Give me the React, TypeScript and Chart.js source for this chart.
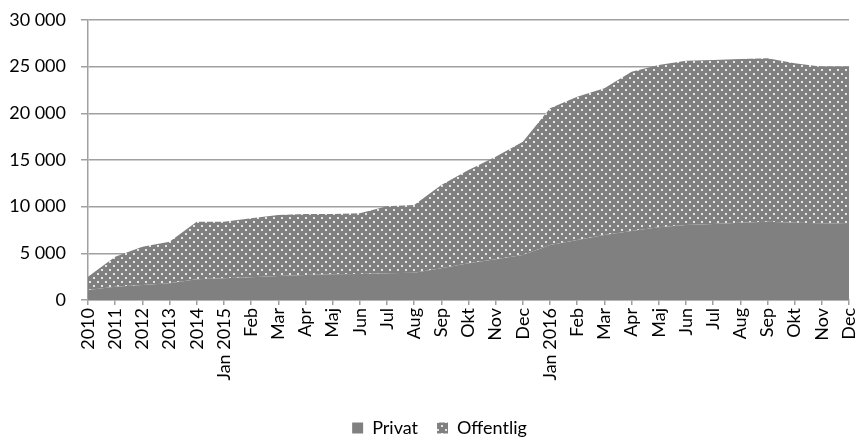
import React, { useEffect, useRef } from "react";
import { Chart, registerables } from "chart.js";

Chart.register(...registerables);

const categories = [
  "2010", "2011", "2012", "2013", "2014", "Jan 2015", "Feb", "Mar", "Apr", "Maj", "Jun", "Jul", "Aug", "Sep", "Okt", "Nov", "Dec",
  "Jan 2016", "Feb", "Mar", "Apr", "Maj", "Jun", "Jul", "Aug", "Sep", "Okt", "Nov", "Dec",
];

const privat = [
  1070, 1430, 1600, 1790, 2210, 2320, 2430, 2570, 2680, 2750, 2790, 2860, 2930, 3390, 3930, 4360, 4820,
  5890, 6430, 6960, 7390, 7790, 8040, 8140, 8290, 8390, 8290, 8210, 8140,
];

const offentlig = [
  1430, 3210, 4110, 4460, 6180, 6070, 6320, 6530, 6530, 6460, 6500, 7190, 7250, 8930, 10000, 11000, 12140,
  14650, 15360, 15720, 17070, 17390, 17600, 17570, 17530, 17500, 17070, 16790, 16860,
];

const yMax = 30000;
const yStep = 5000;

const FONT = "Lato, 'Open Sans', sans-serif";
const GRID = "#a0a0a0";
const FILL = "#808080";

function fmt(v: number): string {
  return String(v).replace(/\B(?=(\d{3})+(?!\d))/g, " ");
}

function makePattern(): CanvasPattern | string {
  const c = document.createElement("canvas");
  c.width = 8;
  c.height = 8;
  const ctx = c.getContext("2d");
  if (!ctx) return FILL;
  ctx.fillStyle = FILL;
  ctx.fillRect(0, 0, 8, 8);
  ctx.fillStyle = "#e6e6e6";
  ctx.fillRect(1, 1, 2, 2);
  ctx.fillRect(5, 5, 2, 2);
  const p = ctx.createPattern(c, "repeat");
  return p || FILL;
}

const legendShift = {
  id: "legendShift",
  afterLayout(chart: any) {
    if (chart.legend) {
      chart.legend.left += 30;
    }
  },
};

export default function App() {
  const ref = useRef<HTMLCanvasElement | null>(null);

  useEffect(() => {
    if (!ref.current) return;
    const pattern = makePattern();
    const chart = new Chart(ref.current, {
      type: "line",
      data: {
        labels: categories,
        datasets: [
          {
            label: "Privat",
            data: privat,
            backgroundColor: FILL,
            borderColor: FILL,
            borderWidth: 0,
            pointRadius: 0,
            fill: "origin",
            tension: 0,
          },
          {
            label: "Offentlig",
            data: offentlig,
            backgroundColor: pattern as any,
            borderColor: FILL,
            borderWidth: 0,
            pointRadius: 0,
            fill: "-1",
            tension: 0,
          },
        ],
      },
      plugins: [legendShift],
      options: {
        responsive: false,
        animation: false,
        layout: { padding: { top: 20, right: 9, left: 0, bottom: -10 } },
        plugins: {
          legend: {
            display: true,
            position: "bottom",
            labels: {
              boxWidth: 11,
              boxHeight: 11,
              padding: 19,
              color: "#000",
              font: { family: FONT, size: 18 },
            },
          },
          tooltip: { enabled: false },
        },
        scales: {
          x: {
            type: "category",
            offset: false,
            grid: {
              display: true,
              drawOnChartArea: false,
              drawTicks: true,
              tickLength: 5,
              color: GRID,
              lineWidth: 1.5,
            },
            border: { display: true, color: GRID, width: 1.5 },
            ticks: {
              autoSkip: false,
              minRotation: 90,
              maxRotation: 90,
              padding: 3,
              color: "#000",
              font: { family: FONT, size: 18 },
            },
            afterFit: (s: any) => {
              s.height = 100;
              s.paddingLeft = 0;
              s.paddingRight = 0;
            },
          },
          y: {
            stacked: true,
            min: 0,
            max: yMax,
            grid: {
              display: true,
              drawTicks: true,
              tickLength: 7,
              color: GRID,
              lineWidth: 1.5,
            },
            border: { display: true, color: GRID, width: 1.5 },
            ticks: {
              stepSize: yStep,
              padding: 15,
              color: "#000",
              font: { family: FONT, size: 18 },
              callback: (v: any) => fmt(Number(v)),
            },
            afterFit: (s: any) => {
              s.width = 88;
              s.paddingTop = 0;
              s.paddingBottom = 0;
            },
          },
        },
      },
    });
    return () => chart.destroy();
  }, []);

  return (
    <div style={{ position: "fixed", left: 0, top: 0, width: 858, height: 437, background: "#fff" }}>
      <canvas ref={ref} width={858} height={437} style={{ display: "block" }} />
    </div>
  );
}
